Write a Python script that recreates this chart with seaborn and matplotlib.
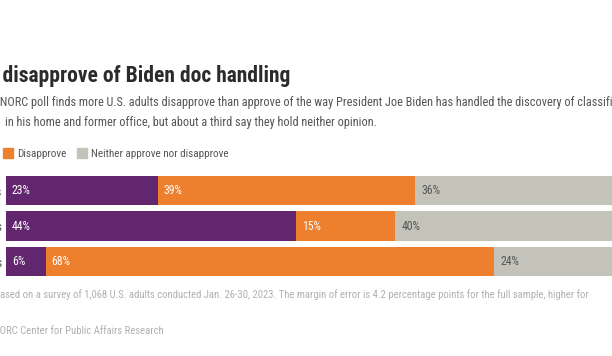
import matplotlib
matplotlib.use("Agg")
import matplotlib.pyplot as plt
from matplotlib import font_manager
import pandas as pd
import seaborn as sns

# Data
groups = ["All adults", "Democrats", "Republicans"]
approve = [23, 44, 6]
disapprove = [39, 15, 68]
neither = [36, 40, 24]

PURPLE = "#62266f"
ORANGE = "#ee7f2d"
GREY = "#c4c3ba"

W, H = 612, 356

sns.set_theme(style="white")
names = {f.name for f in font_manager.fontManager.ttflist}
FONT = "DejaVu Sans"
for cand in ["Roboto Condensed", "Liberation Sans Narrow", "DejaVu Sans Condensed", "Open Sans Condensed"]:
    if cand in names:
        FONT = cand
        break
plt.rcParams["font.family"] = [FONT, "DejaVu Sans"]

df = pd.DataFrame({"group": groups, "approve": approve,
                   "disapprove": disapprove, "neither": neither})
df["cum_dis"] = df["approve"] + df["disapprove"]
df["cum_all"] = df["cum_dis"] + df["neither"]

fig = plt.figure(figsize=(W / 100, H / 100), dpi=100)
fig.patch.set_facecolor("white")
renderer = fig.canvas.get_renderer()


def px(x, y):
    return x / W, 1 - y / H


def cut_text(x, y, hidden, shown, **kw):
    # place text so that the 'shown' part begins at pixel x
    full = fig.text(0, 0, hidden + shown, **kw)
    vis = fig.text(0, 0, shown, **kw)
    w = full.get_window_extent(renderer).width - vis.get_window_extent(renderer).width
    full.remove()
    vis.remove()
    fig.text(*px(x - w, y), hidden + shown, va="baseline", **kw)


# Title and subtitle
cut_text(2, 82, "Most ", "disapprove of Biden doc handling",
         fontsize=15.5, fontweight="bold", color="#2b2b2b")
cut_text(0, 106, "An AP-", "NORC poll finds more U.S. adults disapprove than approve of the way "
         "President Joe Biden has handled the discovery of classified documents",
         fontsize=8.8, color="#555555")
fig.text(*px(5, 126), "in his home and former office, but about a third say they hold neither opinion.",
         fontsize=8.8, color="#555555", va="baseline")

# Legend row
for x0, col, lab in [(3, ORANGE, "Disapprove"), (77, GREY, "Neither approve nor disapprove")]:
    fig.patches.append(plt.Rectangle(px(x0, 158), 10 / W, 10 / H, color=col,
                                     transform=fig.transFigure, figure=fig))
    fig.text(*px(x0 + 14, 157.5), lab, fontsize=8, color="#555555", va="baseline")
cut_text(0, 157.5, "Approve ", "", fontsize=8, color="#555555")

# Bars
ax = fig.add_axes([6 / W, 1 - 279.25 / H, 660 / W, 106.5 / H])
sns.barplot(data=df, y="group", x="cum_all", color=GREY, orient="h",
            width=0.82, saturation=1, ax=ax)
sns.barplot(data=df, y="group", x="cum_dis", color=ORANGE, orient="h",
            width=0.82, saturation=1, ax=ax)
sns.barplot(data=df, y="group", x="approve", color=PURPLE, orient="h",
            width=0.82, saturation=1, ax=ax)
for p in ax.patches:
    p.set_edgecolor("none")
ax.set_xlim(0, 100)
ax.set_ylim(2.5, -0.5)
ax.set_xlabel("")
ax.set_ylabel("")
ax.set_xticks([])
ax.tick_params(axis="y", length=0, pad=3, labelsize=9, labelcolor="#555555")
sns.despine(ax=ax, left=True, bottom=True)
ax.set_facecolor("none")

off = 0.9
for i in range(len(groups)):
    ax.text(off, i, f"{approve[i]}%", color="white", fontsize=8.5, va="center")
    ax.text(approve[i] + off, i, f"{disapprove[i]}%", color="white", fontsize=8.5, va="center")
    ax.text(df["cum_dis"][i] + off, i, f"{neither[i]}%", color="#555555", fontsize=8.5, va="center")

# Notes
cut_text(0, 298, "Note: Poll b", "ased on a survey of 1,068 U.S. adults conducted Jan. 26-30, 2023. "
         "The margin of error is 4.2 percentage points for the full sample, higher for",
         fontsize=7.7, color="#b0b0b0")
cut_text(0, 334, "Source: AP-N", "ORC Center for Public Affairs Research",
         fontsize=7.7, color="#b0b0b0")

fig.savefig("out.png", dpi=100)
